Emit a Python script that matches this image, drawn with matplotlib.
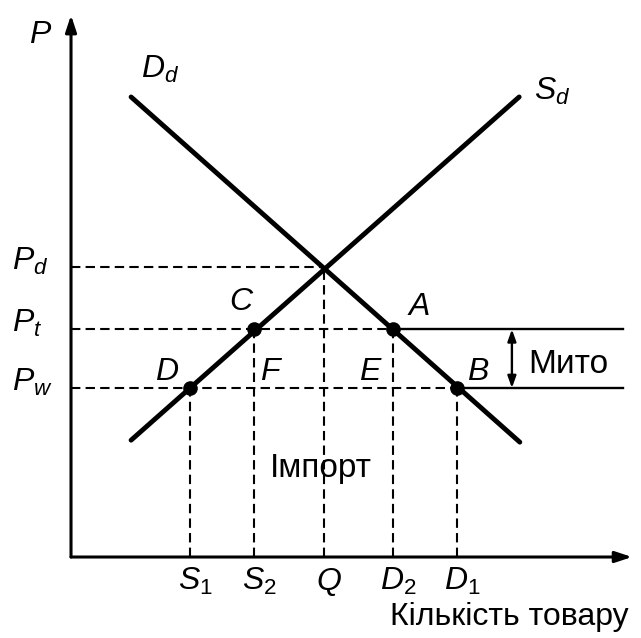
import matplotlib.pyplot as plt
import numpy as np

plt.rcParams['font.family'] = ['Liberation Sans', 'DejaVu Sans']
plt.rcParams['mathtext.fontset'] = 'custom'
plt.rcParams['mathtext.rm'] = 'Liberation Sans'
plt.rcParams['mathtext.it'] = 'Liberation Sans:italic'

# quantities on the x axis
q_labels = ['$S_1$', '$S_2$', '$Q$', '$D_2$', '$D_1$']
q_values = [1.80, 2.77, 3.83, 4.88, 5.85]

# prices on the y axis
p_labels = ['$P_w$', '$P_t$', '$P_d$']
p_values = [2.56, 3.45, 4.39]

# domestic supply and demand curves (end points)
supply_q = [0.91, 6.79]
supply_p = [1.77, 6.97]
demand_q = [0.91, 6.80]
demand_p = [6.97, 1.74]

# marked points on the curves
point_q = [1.80, 2.77, 4.88, 5.85]
point_p = [2.56, 3.45, 3.45, 2.56]

x_end = 8.50
y_end = 8.21
line_end = 8.36

fig = plt.figure(figsize=(6.41, 6.38), dpi=100)
ax = fig.add_axes([0, 0, 1, 1])
ax.set_xlim(-1.076, 8.636)
ax.set_ylim(-1.227, 8.439)
ax.axis('off')

# axes with arrows
ax.annotate('', xy=(x_end, 0), xytext=(0, 0),
            arrowprops=dict(arrowstyle='-|>,head_length=1.0,head_width=0.33', lw=2.2, color='black',
                            shrinkA=0, shrinkB=0))
ax.annotate('', xy=(0, y_end), xytext=(0, 0),
            arrowprops=dict(arrowstyle='-|>,head_length=1.0,head_width=0.33', lw=2.2, color='black',
                            shrinkA=0, shrinkB=0))

dash = dict(color='black', lw=1.5, dashes=(4.5, 2.5))
pw, pt, pd = p_values
s1, s2, q, d2, d1 = q_values

# horizontal guides
ax.plot([0, q], [pd, pd], **dash)
ax.plot([0, d2], [pt, pt], **dash)
ax.plot([0, d1], [pw, pw], **dash)
ax.plot([d2, line_end], [pt, pt], color='black', lw=1.7)
ax.plot([d1, line_end], [pw, pw], color='black', lw=1.7)

# vertical guides
for xv, top in zip(q_values, [pw, pt, pd, pt, pw]):
    ax.plot([xv, xv], [0, top], **dash)

# curves
ax.plot(supply_q, supply_p, color='black', lw=3.5, solid_capstyle='round')
ax.plot(demand_q, demand_p, color='black', lw=3.5, solid_capstyle='round')
ax.plot(point_q, point_p, 'o', color='black', markersize=9.5)

# tariff double arrow
ax.annotate('', xy=(6.68, pw), xytext=(6.68, pt),
            arrowprops=dict(arrowstyle='<|-|>,head_length=0.7,head_width=0.25', lw=1.7, color='black',
                            shrinkA=0, shrinkB=0))

fs = 23
txt = dict(fontsize=fs, ha='left', va='baseline')
ax.text(-0.64, 7.79, '$P$', **txt)
ax.text(1.06, 7.26, '$D_d$', **txt)
ax.text(7.01, 6.92, '$S_d$', **txt)

for lab, yv in zip(p_labels, p_values):
    ax.text(-0.9, yv - 0.04, lab, **txt)

for lab, xv in zip(q_labels, q_values):
    ax.text(xv + 0.08, -0.5, lab, fontsize=fs, ha='center', va='baseline')

ax.text(2.39, 3.74, '$C$', **txt)
ax.text(5.09, 3.67, '$A$', **txt)
ax.text(1.28, 2.68, '$D$', **txt)
ax.text(2.87, 2.68, '$F$', **txt)
ax.text(4.36, 2.68, '$E$', **txt)
ax.text(6.0, 2.68, '$B$', **txt)

ax.text(6.93, 2.79, 'Мито', fontsize=24, ha='left', va='baseline')
ax.text(3.02, 1.21, 'Імпорт', fontsize=24, ha='left', va='baseline')
ax.text(8.45, -1.03, 'Кількість товару', fontsize=fs, ha='right', va='baseline')

fig.savefig('out.png', dpi=100)
